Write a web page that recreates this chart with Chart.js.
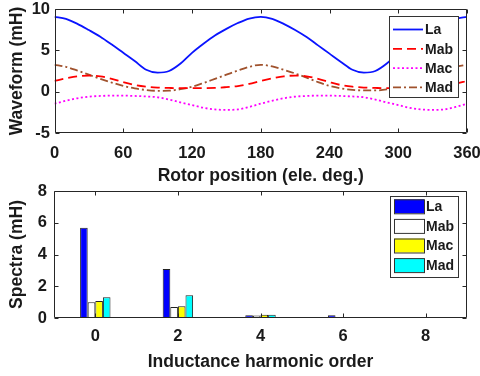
<!DOCTYPE html>
<html>
<head>
<meta charset="utf-8">
<script src="https://cdn.jsdelivr.net/npm/chart.js@4/dist/chart.umd.min.js"></script>
<style>
  body { margin: 0; background: #fff; }
  #wrap { position: relative; width: 480px; height: 376px; }
  canvas { position: absolute; left: 0; }
</style>
</head>
<body>
<div id="wrap">
  <canvas id="wave" width="480" height="185" style="top:0"></canvas>
  <canvas id="spec" width="480" height="195" style="top:181px"></canvas>
</div>
<script>
// rotor position (ele. deg.)
const angles = [0, 10, 20, 30, 40, 50, 60, 70, 80, 90, 100, 110, 120, 130, 140, 150, 160, 170, 180,
  190, 200, 210, 220, 230, 240, 250, 260, 270, 280, 290, 300, 310, 320, 330, 340, 350, 360];

// waveforms (mH)
const La = [9.05, 8.8, 8.2, 7.45, 6.65, 5.7, 4.7, 3.7, 2.65, 2.3, 2.5, 3.4, 4.7, 5.8, 6.8, 7.6, 8.3, 8.85, 9.05,
  8.8, 8.2, 7.45, 6.6, 5.6, 4.6, 3.6, 2.65, 2.3, 2.5, 3.4, 4.7, 5.8, 6.8, 7.6, 8.3, 8.8, 9.05];
const Mab = [1.3, 1.6, 1.85, 1.95, 1.85, 1.55, 1.15, 0.8, 0.6, 0.5, 0.45, 0.42, 0.42, 0.43, 0.45, 0.55, 0.68, 0.95, 1.3,
  1.6, 1.85, 1.95, 1.85, 1.55, 1.15, 0.8, 0.6, 0.5, 0.45, 0.42, 0.42, 0.43, 0.45, 0.55, 0.68, 0.95, 1.3];
const Mac = [-1.45, -1.1, -0.8, -0.6, -0.52, -0.48, -0.48, -0.52, -0.58, -0.68, -0.95, -1.3, -1.62, -1.95, -2.15, -2.2, -2.15, -1.85, -1.45,
  -1.1, -0.8, -0.6, -0.52, -0.48, -0.48, -0.52, -0.58, -0.68, -0.95, -1.3, -1.62, -1.95, -2.15, -2.2, -2.15, -1.85, -1.45];
const Mad = [3.25, 3.0, 2.55, 2.05, 1.55, 1.1, 0.7, 0.4, 0.2, 0.1, 0.12, 0.3, 0.6, 1.05, 1.55, 2.05, 2.55, 3.0, 3.25,
  3.05, 2.65, 2.2, 1.7, 1.15, 0.7, 0.4, 0.22, 0.15, 0.15, 0.28, 0.6, 1.05, 1.55, 2.05, 2.55, 3.0, 3.25];

// harmonic spectra (mH)
const orders = [0, 2, 4, 6, 8];
const specLa = [5.68, 3.08, 0.17, 0.17, 0];
const specMab = [0.99, 0.69, 0.16, 0, 0];
const specMac = [1.07, 0.74, 0.21, 0, 0];
const specMad = [1.30, 1.43, 0.21, 0.06, 0];

const FONT = "'Liberation Sans', Arial, sans-serif";
const INK = '#1a1a1a';
Chart.defaults.font.family = FONT;
Chart.defaults.font.weight = 'bold';
Chart.defaults.color = INK;

// matlab style box with inward ticks
const boxTicks = {
  id: 'boxTicks',
  afterDraw(chart) {
    const { ctx, chartArea: a, scales } = chart;
    const len = 4;
    const L = Math.round(a.left) + 0.5, R = Math.round(a.right) - 0.5;
    const T = Math.round(a.top) + 0.5, B = Math.round(a.bottom) - 0.5;
    ctx.save();
    ctx.strokeStyle = '#262626';
    ctx.lineWidth = 1;
    ctx.beginPath();
    ctx.rect(L, T, R - L, B - T);
    scales.x.ticks.forEach(t => {
      const p = Math.round(scales.x.getPixelForValue(t.value)) + 0.5;
      ctx.moveTo(p, B); ctx.lineTo(p, B - len);
      ctx.moveTo(p, T); ctx.lineTo(p, T + len);
    });
    scales.y.ticks.forEach(t => {
      const p = Math.round(scales.y.getPixelForValue(t.value)) + 0.5;
      ctx.moveTo(L, p); ctx.lineTo(L + len, p);
      ctx.moveTo(R, p); ctx.lineTo(R - len, p);
    });
    ctx.stroke();
    ctx.restore();
  }
};

// legend box drawn inside the plot
const boxLegend = {
  id: 'boxLegend',
  afterDraw(chart, args, o) {
    const ctx = chart.ctx;
    ctx.save();
    ctx.fillStyle = '#fff';
    ctx.fillRect(o.x, o.y, o.w, o.h);
    ctx.strokeStyle = '#333';
    ctx.lineWidth = 1;
    ctx.strokeRect(o.x + 0.5, o.y + 0.5, o.w, o.h);
    ctx.font = 'bold 14px ' + FONT;
    ctx.textBaseline = 'middle';
    chart.data.datasets.forEach((ds, i) => {
      const cy = o.first + i * o.step;
      if (o.kind === 'line') {
        ctx.strokeStyle = ds.borderColor;
        ctx.lineWidth = ds.borderWidth;
        ctx.setLineDash(ds.borderDash || []);
        ctx.beginPath();
        ctx.moveTo(o.x + 4, cy); ctx.lineTo(o.x + 34, cy);
        ctx.stroke();
        ctx.setLineDash([]);
      } else {
        ctx.fillStyle = ds.backgroundColor;
        ctx.fillRect(o.x + 4, cy - 7, 30, 14);
        ctx.strokeStyle = '#333';
        ctx.strokeRect(o.x + 4.5, cy - 6.5, 30, 14);
      }
      ctx.fillStyle = INK;
      ctx.fillText(ds.label, o.x + 36, cy + 1);
    });
    ctx.restore();
  }
};

const titleFont = { size: 17.5, weight: 'bold' };
const tickFont = { size: 16.5, weight: 'bold' };
const noGrid = { display: false, drawTicks: false };

// fixed axis sizes, no label overflow padding
const fixX = h => s => { s.height = h; s.paddingLeft = 0; s.paddingRight = 0; };
const fixY = w => s => { s.width = w; s.paddingTop = 0; s.paddingBottom = 0; };

new Chart(document.getElementById('wave'), {
  type: 'line',
  data: {
    labels: angles,
    datasets: [
      { label: 'La', data: La, borderColor: '#0a14ff', borderWidth: 1.8 },
      { label: 'Mab', data: Mab, borderColor: '#ff0000', borderWidth: 1.8, borderDash: [9, 5] },
      { label: 'Mac', data: Mac, borderColor: '#ff00ff', borderWidth: 1.8, borderDash: [2, 2.5] },
      { label: 'Mad', data: Mad, borderColor: '#a0522d', borderWidth: 1.8, borderDash: [8, 3, 2, 3] }
    ]
  },
  options: {
    responsive: false,
    animation: false,
    layout: { padding: { top: 9, right: 13, bottom: 0, left: 0 } },
    elements: {
      point: { radius: 0 },
      line: { cubicInterpolationMode: 'monotone', fill: false }
    },
    plugins: {
      legend: { display: false },
      tooltip: { enabled: false },
      boxLegend: { kind: 'line', x: 389, y: 16, w: 69, h: 81, first: 29.5, step: 19.3 }
    },
    scales: {
      x: {
        type: 'linear', min: 0, max: 360,
        grid: noGrid, border: { display: false },
        ticks: { stepSize: 60, padding: 10.5, font: tickFont, maxRotation: 0 },
        title: { display: true, text: 'Rotor position (ele. deg.)', font: titleFont, padding: { top: 0, bottom: -1.5 } },
        afterFit: fixX(52)
      },
      y: {
        min: -5, max: 10,
        grid: noGrid, border: { display: false },
        ticks: { stepSize: 5, padding: 4.5, font: tickFont },
        title: { display: true, text: 'Waveform (mH)', font: titleFont, padding: { top: 7, bottom: 0 } },
        afterFit: fixY(54.5)
      }
    }
  },
  plugins: [boxTicks, boxLegend]
});

new Chart(document.getElementById('spec'), {
  type: 'bar',
  data: {
    labels: orders,
    datasets: [
      { label: 'La', data: specLa, backgroundColor: '#0000ff' },
      { label: 'Mab', data: specMab, backgroundColor: '#ffffff' },
      { label: 'Mac', data: specMac, backgroundColor: '#ffff00' },
      { label: 'Mad', data: specMad, backgroundColor: '#00ffff' }
    ]
  },
  options: {
    responsive: false,
    animation: false,
    layout: { padding: { top: 10, right: 13, bottom: 0, left: 0 } },
    datasets: {
      bar: { borderColor: '#222', borderWidth: 1, categoryPercentage: 0.368, barPercentage: 1 }
    },
    plugins: {
      legend: { display: false },
      tooltip: { enabled: false },
      boxLegend: { kind: 'bar', x: 390, y: 15, w: 68, h: 81, first: 25.3, step: 19.6 }
    },
    scales: {
      x: {
        type: 'linear', min: -1, max: 9, offset: false,
        grid: { display: false, drawTicks: false, offset: false }, border: { display: false },
        afterBuildTicks: s => { s.ticks = orders.map(v => ({ value: v })); },
        ticks: { padding: 9, font: tickFont, maxRotation: 0 },
        title: { display: true, text: 'Inductance harmonic order', font: titleFont, padding: { top: 0, bottom: 3.5 } },
        afterFit: fixX(58)
      },
      y: {
        min: 0, max: 8,
        grid: noGrid, border: { display: false },
        ticks: { stepSize: 2, padding: 7, font: tickFont },
        title: { display: true, text: 'Spectra (mH)', font: titleFont, padding: { top: 6.2, bottom: 0 } },
        afterFit: fixY(54)
      }
    }
  },
  plugins: [boxTicks, boxLegend]
});
</script>
</body>
</html>
